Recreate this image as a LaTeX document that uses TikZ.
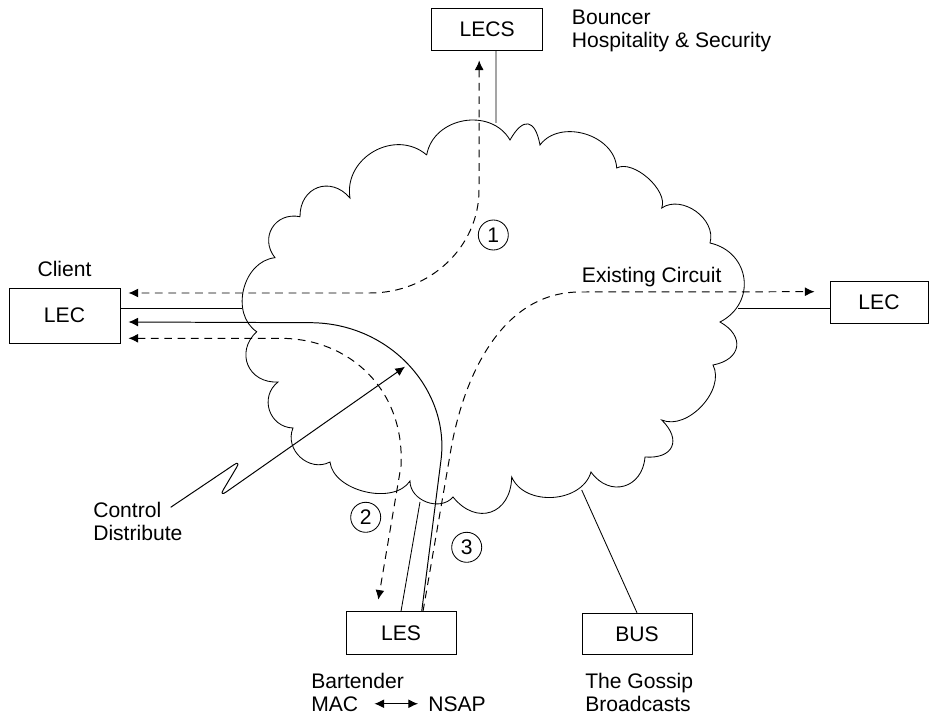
\documentclass[tikz,border=0pt]{standalone}
\usepackage{fontspec}
\setmainfont{Liberation Sans}
\usetikzlibrary{arrows.meta,positioning,calc}
\tikzset{
  box/.style={rectangle, draw=black, line width=0.6pt, fill=white,
    font=\fontsize{15}{17}\selectfont, inner sep=0pt},
  lbl/.style={font=\fontsize{15}{16}\selectfont, align=left,
    inner sep=0pt, anchor=north west},
  num/.style={circle, draw=black, line width=0.6pt, minimum size=0.75cm,
    inner sep=0pt, font=\fontsize{15}{17}\selectfont},
  link/.style={line width=0.6pt},
  cloudline/.style={line width=0.6pt},
  bump/.style={bend left=70, looseness=#1},
  arrsolid/.style={-{Latex[length=2.4mm,width=2.2mm]}, line width=0.7pt},
  arrdash/.style={-{Latex[length=2.4mm,width=2.2mm]}, line width=0.7pt,
    dash pattern=on 5.5pt off 4pt},
  arrdash2/.style={{Latex[length=2.4mm,width=2.2mm]}-{Latex[length=2.4mm,width=2.2mm]},
    line width=0.7pt, dash pattern=on 5.5pt off 4pt},
  arrboth/.style={{Latex[length=2.4mm,width=2.2mm]}-{Latex[length=2.4mm,width=2.2mm]},
    line width=0.7pt},
}

\begin{document}
\begin{tikzpicture}[x=0.025cm, y=-0.025cm]
\useasboundingbox (0,0) rectangle (936,716);

% ---------------- BOXES ----------------
\node[box, minimum width=2.775cm, minimum height=1.375cm] (n-lecl) at (64.5,315.5) {LEC};
\node[box, minimum width=2.775cm, minimum height=1.04cm] (n-lecs) at (487.2,29.2) {LECS};
\node[box, minimum width=2.75cm, minimum height=1.06cm] (n-les) at (401,633) {LES};
\node[box, minimum width=2.75cm, minimum height=1.04cm] (n-bus) at (637,634) {BUS};
\node[box, minimum width=2.45cm, minimum height=1.04cm] (n-lecr) at (879,302.5) {LEC};

% ---------------- LABELS ----------------
\node[font=\fontsize{15}{17}\selectfont, inner sep=0pt, above=0.26cm of n-lecl] (n-client) {Client};
\node[lbl] (n-bouncer) at (571.7,10) {Bouncer\\Hospitality \& Security};
\node[font=\fontsize{15}{17}\selectfont, inner sep=0pt] (n-circuit) at (651.7,277) {Existing Circuit};
\node[lbl] (n-bart) at (311,673) {Bartender};
\node[lbl] (n-mac) at (311,696) {MAC};
\node[lbl] (n-nsap) at (428,696) {NSAP};
\node[lbl] (n-gossip) at (585,673) {The Gossip\\Broadcasts};
\node[lbl] (n-ctrl) at (93,502) {Control\\Distribute};

\node[num] (n-one) at (493.3,235) {1};
\node[num] (n-two) at (365.7,517.3) {2};
\node[num] (n-three) at (466.7,547.3) {3};

% ---------------- CLOUD ----------------
\draw[cloudline] (426.7,155) to[bump=1.16] (510,140) to[bump=2.25] (540,145)
  to[bump=1.07] (616.7,168) to[bump=0.8] (661.7,208) to[bump=1.06] (710,243)
  to[bump=1.33] (720,322) to[bump=1.7] (713,365) to[bump=0.95] (661.7,420)
  to[bump=1.8] (645,457) to[bump=1.45] (591,472) to[bump=1.05] (511.7,477)
  to[bump=1.55] (453,497) to[bump=1.1] (410,481) to[bump=0.92] (330,462)
  to[bump=1.2] (293,428) to[bump=1.27] (278,382) to[bump=1.4] (256.7,331.7)
  to[bump=1.09] (275,257.7) to[bump=1.36] (300,216.7) to[bump=1.43] (350,198)
  to[bump=1.2] (426.7,155);

\coordinate (c-lecs) at (496,123);
\coordinate (c-lecl) at (242,308);
\coordinate (c-lecr) at (738,308);
\coordinate (c-les) at (420,502);
\coordinate (c-bus) at (581.7,490);
\coordinate (c-zap) at (405,366.7);

% ---------------- ATTACHMENTS ----------------
\draw[link] ($(n-lecs.south)+(8.8,0)$) -- (c-lecs);
\draw[link] (n-lecl.east |- c-lecl) -- (c-lecl);
\draw[link] (c-lecr) -- (n-lecr.west |- c-lecr);
\draw[link] (c-les) -- (n-les.north);
\draw[link] (c-bus) -- (n-bus.north);

% ---------------- CIRCUITS ----------------
\draw[arrdash2] ($(n-lecs.south)+(-8,10)$) -- (479,190)
  .. controls (479,247) and (430,293) .. (370,293) -- ($(n-lecl.east)+(8,-22.5)$);
\draw[arrsolid] ($(n-les.north)+(20.7,0)$) -- (441,460)
  .. controls (450,390) and (390,322.7) .. (310,322.7) -- ($(n-lecl.east)+(8,6.5)$);
\draw[arrdash2] ($(n-lecl.east)+(8,22.8)$) -- (280,338.3)
  .. controls (350,338.3) and (405,390) .. (401,466) -- ($(n-les.north)+(-22.7,-11.7)$);
\draw[arrdash] ($(n-les.north)+(22,0)$) -- (450,455)
  .. controls (462,380) and (500,292) .. (580,292) -- ($(n-lecr.west)+(-15,-10.8)$);

% ---- control ----
\draw[arrsolid, rounded corners=6pt] ($(n-ctrl.north west)+(77.7,5.3)$) -- (241,460) -- (219,497) -- (c-zap);

% ---- MAC <-> NSAP ----
\draw[arrboth, shorten <=0.4cm, shorten >=0.25cm] (n-mac.east) -- (n-nsap.west);

\end{tikzpicture}
\end{document}
